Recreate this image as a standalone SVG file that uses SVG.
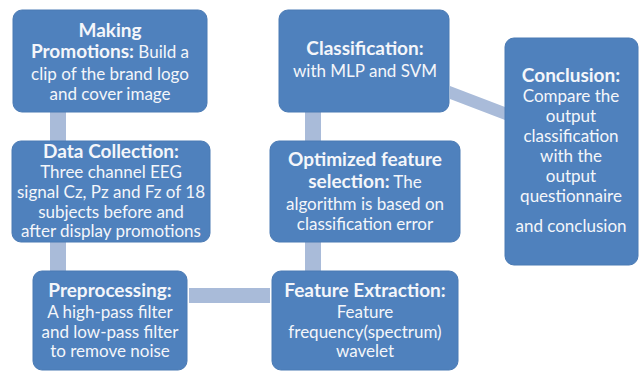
<svg xmlns="http://www.w3.org/2000/svg" width="641" height="372" viewBox="0 0 641 372">
<style>
.box{fill:#4f81bd;stroke:#4a7ab4;stroke-width:1}
.con{fill:#a9bbd9}
text{font-family:Lato,"Liberation Sans",sans-serif;fill:#f4f6fa;text-anchor:middle;font-size:17px}
.t{font-weight:bold;font-size:19px}
</style>
<rect width="641" height="372" fill="#ffffff"/>
<g id="connectors">
<rect class="con" x="50" y="112" width="16" height="29"/>
<rect class="con" x="50" y="242" width="16" height="29"/>
<rect class="con" x="189" y="288" width="81" height="15"/>
<rect class="con" x="305" y="242" width="16" height="29"/>
<rect class="con" x="305" y="112" width="16" height="29"/>
<polygon class="con" points="450,86 505,107 505,120 450,99"/>
</g>
<g id="making-promotions">
<rect class="box" x="13" y="10" width="194" height="102" rx="9"/>
<text x="110" y="37" class="t">Making</text>
<text x="110" y="58"><tspan class="t">Promotions:</tspan> Build a</text>
<text x="110" y="80">clip of the brand logo</text>
<text x="110" y="100">and cover image</text>
</g>
<g id="data-collection">
<rect class="box" x="12" y="141" width="198" height="101" rx="9"/>
<text x="111" y="158" class="t">Data Collection:</text>
<text x="111" y="178">Three channel EEG</text>
<text x="111" y="198">signal Cz, Pz and Fz of 18</text>
<text x="111" y="218">subjects before and</text>
<text x="111" y="237">after display promotions</text>
</g>
<g id="preprocessing">
<rect class="box" x="33" y="271" width="154" height="99" rx="9"/>
<text x="110" y="297" class="t">Preprocessing:</text>
<text x="110" y="318">A high-pass filter</text>
<text x="110" y="338">and low-pass filter</text>
<text x="110" y="357">to remove noise</text>
</g>
<g id="feature-extraction">
<rect class="box" x="272" y="271" width="186" height="99" rx="9"/>
<text x="365" y="297" class="t">Feature Extraction:</text>
<text x="365" y="318">Feature</text>
<text x="365" y="338">frequency(spectrum)</text>
<text x="365" y="357">wavelet</text>
</g>
<g id="feature-selection">
<rect class="box" x="270" y="141" width="190" height="101" rx="9"/>
<text x="365" y="166" class="t">Optimized feature</text>
<text x="365" y="188"><tspan class="t">selection:</tspan> The</text>
<text x="365" y="210">algorithm is based on</text>
<text x="365" y="230">classification error</text>
</g>
<g id="classification">
<rect class="box" x="279" y="10" width="170" height="102" rx="9"/>
<text x="365" y="55" class="t">Classification:</text>
<text x="365" y="77">with MLP and SVM</text>
</g>
<g id="conclusion">
<rect class="box" x="505" y="38" width="133" height="227" rx="9"/>
<text x="571" y="82" class="t">Conclusion:</text>
<text x="571" y="102">Compare the</text>
<text x="571" y="122">output</text>
<text x="571" y="142">classification</text>
<text x="571" y="162">with the</text>
<text x="571" y="182">output</text>
<text x="571" y="202">questionnaire</text>
<text x="571" y="232">and conclusion</text>
</g>
</svg>
